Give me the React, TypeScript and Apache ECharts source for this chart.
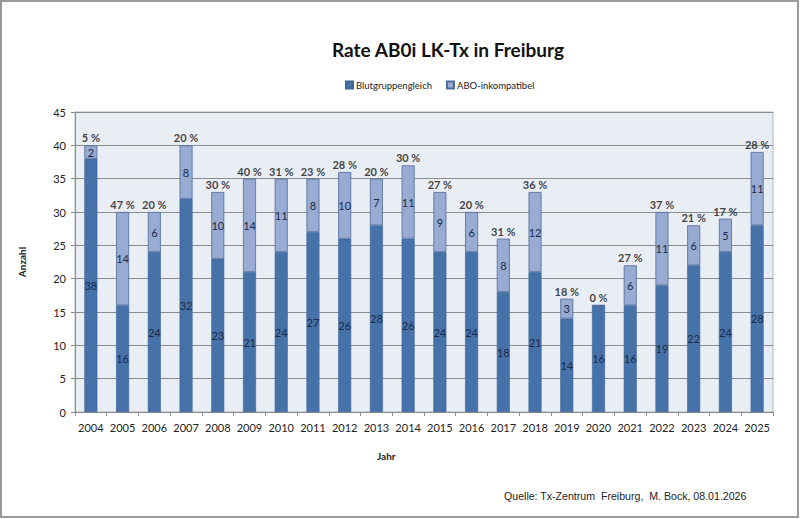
import React, { useEffect, useRef } from "react";
import * as echarts from "echarts";

const years = ["2004","2005","2006","2007","2008","2009","2010","2011","2012","2013","2014","2015","2016","2017","2018","2019","2020","2021","2022","2023","2024","2025"];
const blutgruppengleich = [38,16,24,32,23,21,24,27,26,28,26,24,24,18,21,14,16,16,19,22,24,28];
const aboInkompatibel = [2,14,6,8,10,14,11,8,10,7,11,9,6,8,12,3,0,6,11,6,5,11];
const yTicks = { min: 0, max: 45, interval: 5 };

const totals = blutgruppengleich.map((v, i) => v + aboInkompatibel[i]);
const pctLabels = aboInkompatibel.map((v, i) => `${Math.round((v / totals[i]) * 100)} %`);

const FONT = "Lato, 'Open Sans', sans-serif";

export default function App() {
  const ref = useRef<HTMLDivElement>(null);
  useEffect(() => {
    document.body.style.margin = "0";
    const chart = echarts.init(ref.current!, null, { renderer: "svg" });
    chart.setOption({
      animation: false,
      backgroundColor: "#ffffff",
      textStyle: { fontFamily: FONT },
      title: {
        text: "Rate AB0i LK-Tx in Freiburg",
        left: 443,
        top: 35,
        textAlign: "center",
        textStyle: { fontFamily: FONT, fontWeight: "bold", fontSize: 19, color: "#111" },
      },
      legend: {
        data: ["Blutgruppengleich", "ABO-inkompatibel"],
        left: 340,
        top: 75,
        itemWidth: 7,
        itemHeight: 7,
        itemGap: 14,
        icon: "rect",
        textStyle: { fontFamily: FONT, fontSize: 9.5, color: "#222", padding: [0, 0, 0, -2] },
      },
      grid: {
        left: 75,
        right: 27,
        top: 112,
        bottom: 107,
        show: true,
        backgroundColor: "#e9edf4",
        borderColor: "#b5b5b5",
        borderWidth: 1,
      },
      xAxis: {
        type: "category",
        data: years,
        axisLine: { lineStyle: { color: "#8a8a8a" } },
        axisTick: { show: true, length: 4, lineStyle: { color: "#8a8a8a" } },
        axisLabel: { interval: 0, fontFamily: FONT, fontSize: 11, color: "#222", margin: 10 },
      },
      yAxis: {
        type: "value",
        min: yTicks.min,
        max: yTicks.max,
        interval: yTicks.interval,
        name: "Anzahl",
        nameLocation: "middle",
        nameRotate: 90,
        nameGap: 48,
        nameTextStyle: { fontFamily: FONT, fontWeight: "bold", fontSize: 10, color: "#222" },
        axisLine: { show: true, lineStyle: { color: "#8a8a8a" } },
        axisTick: { show: true, length: 4, lineStyle: { color: "#8a8a8a" } },
        axisLabel: { fontFamily: FONT, fontSize: 11, color: "#222", margin: 9 },
        splitLine: { lineStyle: { color: "#8c8c8c", width: 1 } },
      },
      series: [
        {
          name: "Blutgruppengleich",
          type: "bar",
          stack: "t",
          barWidth: 13,
          data: blutgruppengleich,
          itemStyle: { color: "#4672aa", borderColor: "#3d639a", borderWidth: 0.6 },
          label: {
            show: true,
            position: "inside",
            fontFamily: FONT,
            fontSize: 11,
            color: "#1b2a48",
          },
        },
        {
          name: "ABO-inkompatibel",
          type: "bar",
          stack: "t",
          barWidth: 13,
          data: aboInkompatibel,
          itemStyle: { color: "#98abd2", borderColor: "#4e6a9c", borderWidth: 0.8 },
          label: {
            show: true,
            position: "inside",
            fontFamily: FONT,
            fontSize: 11,
            color: "#1b2a48",
            formatter: (p: any) => (p.value ? String(p.value) : ""),
          },
        },
        {
          name: "pct",
          type: "scatter",
          data: totals,
          symbolSize: 0,
          silent: true,
          label: {
            show: true,
            position: "top",
            distance: 2,
            fontFamily: FONT,
            fontWeight: "bold",
            fontSize: 11,
            color: "#111",
            formatter: (p: any) => pctLabels[p.dataIndex],
          },
        },
      ],
      graphic: [
        {
          type: "text",
          left: 377,
          top: 451,
          style: { text: "Jahr", fontFamily: FONT, fontWeight: "bold", fontSize: 10, fill: "#222" },
        },
        {
          type: "text",
          left: 504,
          top: 490,
          style: {
            text: "Quelle: Tx-Zentrum\u00a0 Freiburg,\u00a0 M. Bock, 08.01.2026",
            fontFamily: "'Liberation Sans', Arial, sans-serif",
            fontSize: 10.6,
            fill: "#222",
          },
        },
        {
          type: "rect",
          shape: { x: 1, y: 1, width: 797, height: 516 },
          style: { fill: "none", stroke: "#9a9a9a", lineWidth: 2 },
          silent: true,
          z: 100,
        },
      ],
    });
    return () => chart.dispose();
  }, []);
  return <div ref={ref} style={{ width: 800, height: 519 }} />;
}
